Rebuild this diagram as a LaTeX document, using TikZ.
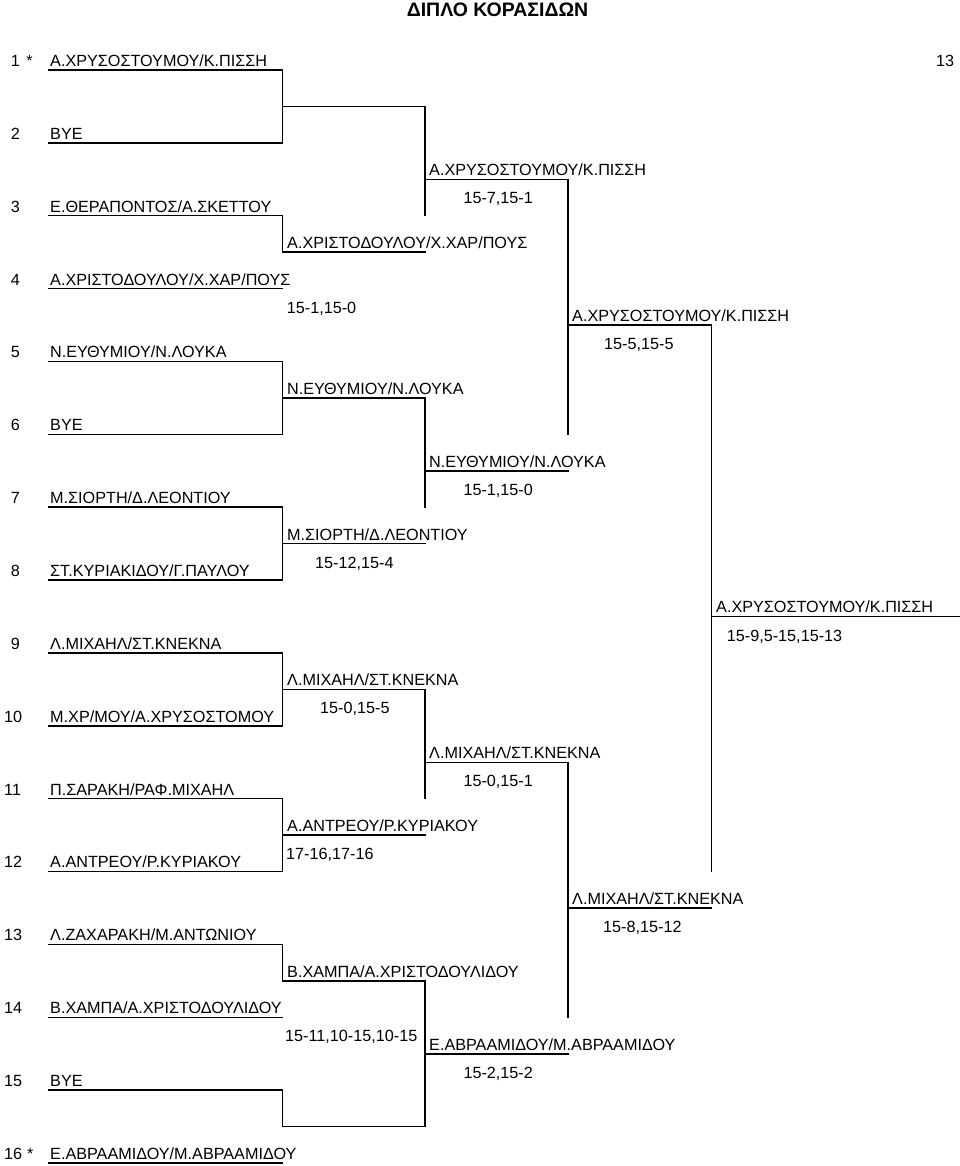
\documentclass[tikz,border=0pt]{standalone}
\usepackage{fontspec}
\setmainfont{Liberation Sans}
\begin{document}
\begin{tikzpicture}[x=1pt,y=-1pt,
  ln/.style={line width=1.5pt, black, line cap=rect},
  nm/.style={anchor=base west, inner sep=0pt, font=\fontsize{16.2}{19}\selectfont},
  sc/.style={anchor=base west, inner sep=0pt, font=\fontsize{16.2}{19}\selectfont},
  num/.style={anchor=base west, inner sep=0pt, font=\fontsize{16.2}{19}\selectfont},
  ttl/.style={anchor=base, inner sep=0pt, font=\fontsize{19.5}{22}\selectfont\bfseries}]
\useasboundingbox (0,0) rectangle (960,1166);

% column x positions
\def\XA{48.3}\def\XB{282.5}\def\XC{425}\def\XD{568}\def\XE{711.7}\def\XF{960}

\node[ttl] (title) at (497.5,16.5) {ΔΙΠΛΟ ΚΟΡΑΣΙΔΩΝ};
\node[nm] (seedtop) at (936,66.4) {13};

% ---- round 1 rows ----
\foreach \i/\lab/\nx/\who in {
  1/{1\hspace{6.5pt}*}/10.7/{Α.ΧΡΥΣΟΣΤΟΥΜΟΥ/Κ.ΠΙΣΣΗ},
  2/2/10.7/{ΒΥΕ},
  3/3/10.7/{Ε.ΘΕΡΑΠΟΝΤΟΣ/Α.ΣΚΕΤΤΟΥ},
  4/4/10.7/{Α.ΧΡΙΣΤΟΔΟΥΛΟΥ/Χ.ΧΑΡ/ΠΟΥΣ},
  5/5/10.7/{Ν.ΕΥΘΥΜΙΟΥ/Ν.ΛΟΥΚΑ},
  6/6/10.7/{ΒΥΕ},
  7/7/10.7/{Μ.ΣΙΟΡΤΗ/Δ.ΛΕΟΝΤΙΟΥ},
  8/8/10.7/{ΣΤ.ΚΥΡΙΑΚΙΔΟΥ/Γ.ΠΑΥΛΟΥ},
  9/9/10.7/{Λ.ΜΙΧΑΗΛ/ΣΤ.ΚΝΕΚΝΑ},
  10/10/4/{Μ.ΧΡ/ΜΟΥ/Α.ΧΡΥΣΟΣΤΟΜΟΥ},
  11/11/4/{Π.ΣΑΡΑΚΗ/ΡΑΦ.ΜΙΧΑΗΛ},
  12/12/4/{Α.ΑΝΤΡΕΟΥ/Ρ.ΚΥΡΙΑΚΟΥ},
  13/13/4/{Λ.ΖΑΧΑΡΑΚΗ/Μ.ΑΝΤΩΝΙΟΥ},
  14/14/4/{Β.ΧΑΜΠΑ/Α.ΧΡΙΣΤΟΔΟΥΛΙΔΟΥ},
  15/15/4/{ΒΥΕ},
  16/{16\hspace{5pt}*}/4/{Ε.ΑΒΡΑΑΜΙΔΟΥ/Μ.ΑΒΡΑΑΜΙΔΟΥ}} {
  \pgfmathsetmacro\yy{70+(\i-1)*72.87}
  \coordinate (p\i L) at (\XA,\yy);
  \coordinate (p\i R) at (\XB,\yy);
  \draw[ln] (p\i L) -- (p\i R);
  \node[num] (k\i) at (\nx,\yy-3.6) {\lab};
  \node[nm] (n\i) at (50,\yy-3.6) {\who};
}

% ---- round 2 lines ----
\foreach \k in {1,...,8} {
  \pgfmathsetmacro\yy{70+(2*\k-1.5)*72.87}
  \coordinate (a\k) at (\XB,\yy);
  \coordinate (b\k) at (\XC,\yy);
  \draw[ln] (a\k) -- (b\k);
}
% ---- round 3 lines ----
\foreach \m in {1,...,4} {
  \pgfmathsetmacro\yy{70+(4*\m-2.5)*72.87}
  \coordinate (c\m) at (\XC,\yy);
  \coordinate (d\m) at (\XD,\yy);
  \draw[ln] (c\m) -- (d\m);
}
% ---- round 4 lines ----
\foreach \n in {1,2} {
  \pgfmathsetmacro\yy{70+(8*\n-4.5)*72.87}
  \coordinate (e\n) at (\XD,\yy);
  \coordinate (f\n) at (\XE,\yy);
  \draw[ln] (e\n) -- (f\n);
}
% ---- final line ----
\coordinate (g1) at (\XE,616.53);
\coordinate (h1) at (\XF,616.53);
\draw[ln] (g1) -- (h1);

% ---- verticals, column B ----
\draw[ln] (p1R) -- (p2R);
\draw[ln] (p3R) -- (a2);
\draw[ln] (p5R) -- (p6R);
\draw[ln] (p7R) -- (p8R);
\draw[ln] (p9R) -- (p10R);
\draw[ln] (p11R) -- (p12R);
\draw[ln] (p13R) -- (a7);
\draw[ln] (p15R) -- (a8);
% ---- verticals, column C ----
\coordinate (v3) at (\XC,215.74);
\coordinate (v7) at (\XC,507.22);
\coordinate (v11) at (\XC,798.70);
\draw[ln] (b1) -- (v3);
\draw[ln] (b3) -- (v7);
\draw[ln] (b5) -- (v11);
\draw[ln] (b7) -- (b8);
% ---- verticals, column D ----
\coordinate (w6) at (\XD,434.35);
\coordinate (w14) at (\XD,1017.31);
\draw[ln] (d1) -- (w6);
\draw[ln] (d3) -- (w14);
% ---- vertical, column E ----
\coordinate (u12) at (\XE,871.57);
\draw[ln] (f1) -- (u12);

% ---- winner names ----
\node[nm] (w2b) at (287,252.18-3.6) {Α.ΧΡΙΣΤΟΔΟΥΛΟΥ/Χ.ΧΑΡ/ΠΟΥΣ};
\node[nm] (w3b) at (287,397.92-3.6) {Ν.ΕΥΘΥΜΙΟΥ/Ν.ΛΟΥΚΑ};
\node[nm] (w4b) at (287,543.66-3.6) {Μ.ΣΙΟΡΤΗ/Δ.ΛΕΟΝΤΙΟΥ};
\node[nm] (w5b) at (287,689.40-3.6) {Λ.ΜΙΧΑΗΛ/ΣΤ.ΚΝΕΚΝΑ};
\node[nm] (w6b) at (287,835.14-3.6) {Α.ΑΝΤΡΕΟΥ/Ρ.ΚΥΡΙΑΚΟΥ};
\node[nm] (w7b) at (287,980.88-3.6) {Β.ΧΑΜΠΑ/Α.ΧΡΙΣΤΟΔΟΥΛΙΔΟΥ};

\node[nm] (w1c) at (429,179.31-3.6) {Α.ΧΡΥΣΟΣΤΟΥΜΟΥ/Κ.ΠΙΣΣΗ};
\node[nm] (w2c) at (429,470.79-3.6) {Ν.ΕΥΘΥΜΙΟΥ/Ν.ΛΟΥΚΑ};
\node[nm] (w3c) at (429,762.27-3.6) {Λ.ΜΙΧΑΗΛ/ΣΤ.ΚΝΕΚΝΑ};
\node[nm] (w4c) at (429,1053.75-3.6) {Ε.ΑΒΡΑΑΜΙΔΟΥ/Μ.ΑΒΡΑΑΜΙΔΟΥ};

\node[nm] (w1d) at (572,325.05-3.6) {Α.ΧΡΥΣΟΣΤΟΥΜΟΥ/Κ.ΠΙΣΣΗ};
\node[nm] (w2d) at (572,908.01-3.6) {Λ.ΜΙΧΑΗΛ/ΣΤ.ΚΝΕΚΝΑ};

\node[nm] (w1e) at (716,616.53-3.6) {Α.ΧΡΥΣΟΣΤΟΥΜΟΥ/Κ.ΠΙΣΣΗ};

% ---- scores ----
\node[sc] (s2b) at (286.7,313.3) {15-1,15-0};
\node[sc] (s4b) at (315,568.3) {15-12,15-4};
\node[sc] (s5b) at (320,713.6) {15-0,15-5};
\node[sc] (s6b) at (286,859.4) {17-16,17-16};
\node[sc] (s7b) at (285,1041.3) {15-11,10-15,10-15};

\node[sc] (s1c) at (463.3,204) {15-7,15-1};
\node[sc] (s2c) at (463.3,495.3) {15-1,15-0};
\node[sc] (s3c) at (463.3,786.8) {15-0,15-1};
\node[sc] (s4c) at (463.3,1078.3) {15-2,15-2};

\node[sc] (s1d) at (604,349.6) {15-5,15-5};
\node[sc] (s2d) at (603,932.6) {15-8,15-12};

\node[sc] (s1e) at (726.7,641.1) {15-9,5-15,15-13};
\end{tikzpicture}
\end{document}
